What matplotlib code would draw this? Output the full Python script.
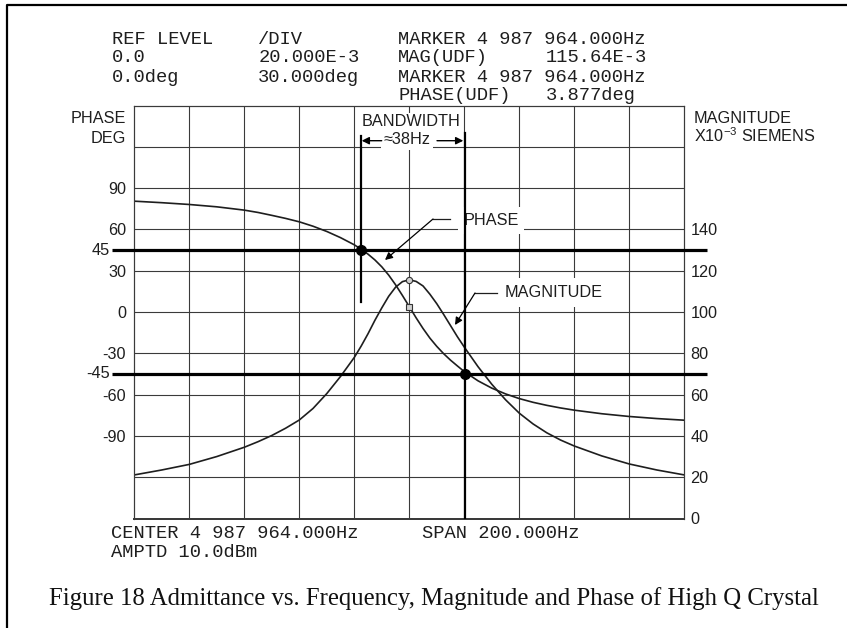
import numpy as np
import matplotlib
matplotlib.use("Agg")
import matplotlib.pyplot as plt
import matplotlib.transforms as mtransforms
from matplotlib.lines import Line2D

# ---------------- data ----------------
center_freq_hz = 4987964.0
span_hz = 200.0
freq_offset_hz = [-100, -90, -80, -70, -60, -55, -50, -45, -40, -35, -30, -25, -20, -17.5,
                  -15, -12.5, -10, -7.5, -5, -2.5, 0, 2.5, 5, 7.5, 10, 12.5, 15,
                  17.5, 20, 25, 30, 35, 40, 45, 50, 55, 60, 70, 80, 90, 100]
phase_deg = [80.5, 79.4, 78.1, 76.4, 74.0, 72.3, 70.2, 68.0, 65.5, 62.3, 58.5, 54.0, 48.8,
             45.6, 42.0, 37.8, 32.8, 26.8, 19.8, 12.0, 3.9, -4.3, -12.0, -19.0, -25.0,
             -30.3, -35.0, -39.2, -43.3, -50.0, -55.3, -59.5, -62.9, -65.6, -67.8,
             -69.7, -71.3, -73.9, -75.9, -77.4, -78.6]
magnitude_mS = [21.1, 23.5, 26.2, 30.0, 34.5, 37.2, 40.2, 43.7, 47.7, 53.3, 60.5, 68.8,
                78.0, 83.5, 89.5, 96.0, 102.0, 107.6, 112.0, 114.7, 115.6, 114.8, 112.6,
                108.6, 104.0, 98.8, 93.4, 88.0, 83.0, 73.5, 65.0, 57.5, 51.0, 45.8,
                41.5, 38.0, 35.1, 30.3, 26.4, 23.5, 21.1]

marker_offset_hz = 0.0
marker_mag_mS = 115.64
marker_phase_deg = 3.877
bw_edges_hz = [-17.7, 20.3]          # -> approx 38 Hz bandwidth
bw_phase_deg = [45, -45]

phase_ticks = [-120, -90, -60, -30, 0, 30, 60, 90, 120]
phase_labels = ["", "-90", "-60", "-30", "0", "30", "60", "90", ""]
mag_ticks = [0, 20, 40, 60, 80, 100, 120, 140, 160, 180]
mag_labels = ["0", "20", "40", "60", "80", "100", "120", "140", "", ""]
freq_grid = [-80, -60, -40, -20, 0, 20, 40, 60, 80]

header_rows = [
    ["REF LEVEL", "/DIV", "MARKER 4 987 964.000Hz"],
    ["0.0", "20.000E-3", "MAG(UDF)"],
    ["0.0deg", "30.000deg", "MARKER 4 987 964.000Hz"],
    ["", "", "PHASE(UDF)"],
]
header_values = {1: "115.64E-3", 3: "3.877deg"}
footer_left = ["CENTER 4 987 964.000Hz", "AMPTD 10.0dBm"]
footer_span = "SPAN 200.000Hz"
caption = "Figure 18 Admittance vs. Frequency, Magnitude and Phase of High Q Crystal"

# ---------------- styling ----------------
plt.rcParams["font.family"] = ["Liberation Sans", "DejaVu Sans"]
plt.rcParams["mathtext.default"] = "regular"
INK = "#1e1e1e"
GRID = "#3a3a3a"
LBL = 11.7
MONO = ["Liberation Mono", "DejaVu Sans Mono"]
MONO_SIZE = 13.5

W, H = 847, 628
fig = plt.figure(figsize=(W / 100, H / 100), dpi=100)
fig.patch.set_facecolor("white")


def fx(x):
    return x / W


def fy(y):
    return 1 - y / H


ax = fig.add_axes([fx(134.3), fy(518.5), 550 / W, 413 / H])
ax2 = ax.twinx()

# grid + frame
ax.set_xticks(freq_grid)
ax.set_yticks(phase_ticks)
ax.set_yticklabels(phase_labels)
ax.grid(True, color=GRID, lw=0.8)
ax.tick_params(axis="x", length=0, labelbottom=False)
ax.tick_params(axis="y", length=0, labelsize=LBL, pad=5.8, labelcolor=INK)
ax2.set_yticks(mag_ticks)
ax2.set_yticklabels(mag_labels)
ax2.tick_params(axis="y", length=0, labelsize=LBL, pad=4.3, labelcolor=INK)
for a in (ax, ax2):
    for s in a.spines.values():
        s.set_color(GRID)
        s.set_linewidth(0.8)
    a.spines["bottom"].set_linewidth(1.4)

# curves
ax.plot(freq_offset_hz, phase_deg, color=INK, lw=1.2, zorder=3)
ax2.plot(freq_offset_hz, magnitude_mS, color=INK, lw=1.2, zorder=2)

# centre marker readouts
ax.plot([marker_offset_hz], [marker_phase_deg], "s", ms=4, mfc="#d0d0d0",
        mec="#333333", mew=0.8, zorder=4)
ax2.plot([marker_offset_hz], [marker_mag_mS], "o", ms=4.5, mfc="#d0d0d0",
         mec="#333333", mew=0.8, zorder=5)

ax.set_xlim(-span_hz / 2, span_hz / 2)
ax.set_ylim(-150, 150)
ax2.set_ylim(0, 200)

# +-45 deg thick lines extending beyond the box
blend = mtransforms.blended_transform_factory(ax.transAxes, ax.transData)
for p in bw_phase_deg:
    ax2.plot([-0.0405, 1.041], [p, p], transform=blend, color="black", lw=2.3,
             clip_on=False, zorder=4, solid_capstyle="butt")
    ax2.text(-0.045, p, f"{p}", transform=blend, ha="right", va="center",
             fontsize=LBL, color=INK)

# bandwidth vertical lines and -3 dB dots
ax2.plot([bw_edges_hz[0]] * 2, [128, 7], transform=ax.transData, color="black",
         lw=1.6, zorder=4)
ax2.plot([bw_edges_hz[1]] * 2, [130, -150], transform=ax.transData, color="black",
         lw=1.6, zorder=4)
ax2.plot(bw_edges_hz, bw_phase_deg, "o", transform=ax.transData, ms=7,
         color="black", zorder=6)

wbox = dict(facecolor="white", edgecolor="none", pad=1.0)
ax2.text(fx(361.7), fy(126), "BANDWIDTH", transform=fig.transFigure, ha="left",
         va="baseline", fontsize=LBL, color=INK, bbox=wbox, zorder=3)
ax2.text(fx(407), fy(144), "≈38Hz", transform=fig.transFigure, ha="center",
         va="baseline", fontsize=LBL, color=INK,
         bbox=dict(facecolor="white", edgecolor="none", pad=2.0), zorder=3)
arrow_kw = dict(arrowstyle="-|>", color="black", lw=1.0, shrinkA=0, shrinkB=0,
                mutation_scale=11)
ax2.annotate("", xy=(361.7, H - 140.7), xycoords="figure pixels",
             xytext=(381.7, H - 140.7), textcoords="figure pixels",
             arrowprops=arrow_kw, zorder=5)
ax2.annotate("", xy=(463.3, H - 140.7), xycoords="figure pixels",
             xytext=(437.0, H - 140.7), textcoords="figure pixels",
             arrowprops=arrow_kw, zorder=5)

# curve labels with leaders
ax2.text(fx(463.3), fy(225), "PHASE", transform=fig.transFigure, ha="left",
         va="baseline", fontsize=LBL, color=INK,
         bbox=dict(facecolor="white", edgecolor="none", pad=4.0), zorder=3)
ax2.plot([fx(450), fx(433)], [fy(219), fy(219)], transform=fig.transFigure,
         color=INK, lw=0.9, zorder=5)
ax2.annotate("", xy=(385, H - 260), xycoords="figure pixels",
             xytext=(433, H - 219), textcoords="figure pixels",
             arrowprops=dict(arrow_kw, lw=0.9), zorder=5)

ax2.text(fx(505), fy(297), "MAGNITUDE", transform=fig.transFigure, ha="left",
         va="baseline", fontsize=LBL, color=INK,
         bbox=dict(facecolor="white", edgecolor="none", pad=5.0), zorder=3)
ax2.plot([fx(497), fx(475)], [fy(293), fy(293)], transform=fig.transFigure,
         color=INK, lw=0.9, zorder=5)
ax2.annotate("", xy=(455, H - 325), xycoords="figure pixels",
             xytext=(475, H - 293), textcoords="figure pixels",
             arrowprops=dict(arrow_kw, lw=0.9), zorder=5)

# axis titles
fig.text(fx(126), fy(123), "PHASE", ha="right", va="baseline", fontsize=LBL, color=INK)
fig.text(fx(126), fy(143), "DEG", ha="right", va="baseline", fontsize=LBL, color=INK)
fig.text(fx(694), fy(123), "MAGNITUDE", ha="left", va="baseline", fontsize=LBL, color=INK)
fig.text(fx(694), fy(142), "X10$^{-3}$ SIEMENS", ha="left", va="baseline",
         fontsize=LBL, color=INK)

# instrument header / footer
col_x = [111.7, 258.3, 398.3]
row_base = [43.5, 62.5, 81.5, 100.0]
for r, row in enumerate(header_rows):
    for c, s in enumerate(row):
        if s:
            fig.text(fx(col_x[c]), fy(row_base[r]), s, family=MONO, fontsize=MONO_SIZE,
                     color=INK, ha="left", va="baseline")
for r, s in header_values.items():
    fig.text(fx(546), fy(row_base[r]), s, family=MONO, fontsize=MONO_SIZE,
             color=INK, ha="left", va="baseline")
fig.text(fx(111), fy(538), footer_left[0], family=MONO, fontsize=MONO_SIZE,
         color=INK, ha="left", va="baseline")
fig.text(fx(111), fy(557), footer_left[1], family=MONO, fontsize=MONO_SIZE,
         color=INK, ha="left", va="baseline")
fig.text(fx(421.7), fy(538), footer_span, family=MONO, fontsize=MONO_SIZE,
         color=INK, ha="left", va="baseline")

# caption, fitted to the reference width
cap = fig.text(fx(49.3), fy(605), caption, family=["Liberation Serif", "DejaVu Serif"],
               fontsize=16, color="#111111", ha="left", va="baseline")
renderer = fig.canvas.get_renderer()
wpx = cap.get_window_extent(renderer).width
cap.set_fontsize(16 * 771.0 / wpx)

# page frame (left and top edges)
fig.add_artist(Line2D([fx(6.5), fx(6.5), 1.0], [0.0, fy(5), fy(5)],
                      transform=fig.transFigure, color="black", lw=1.6))

fig.savefig("out.png", dpi=100)
